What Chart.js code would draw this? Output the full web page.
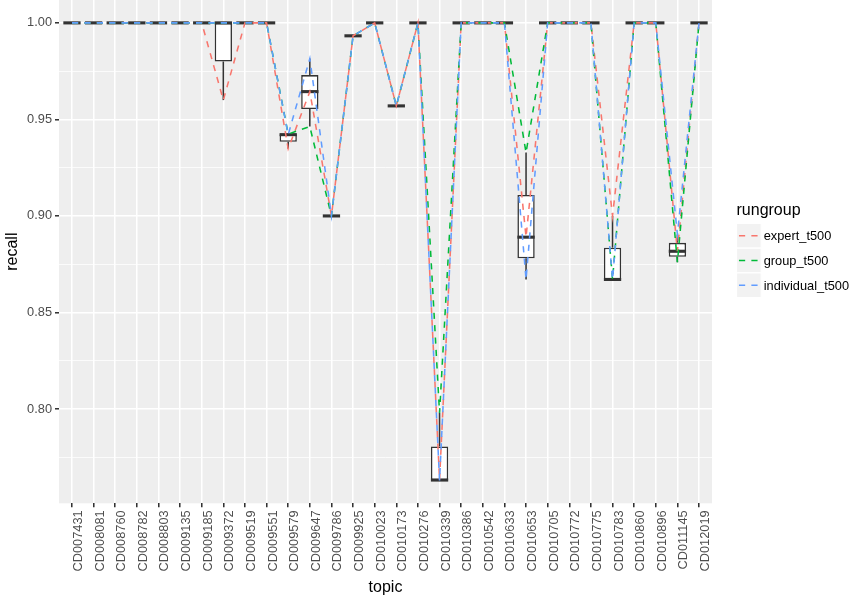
<!DOCTYPE html>
<html>
<head>
<meta charset="utf-8">
<script src="https://cdn.jsdelivr.net/npm/chart.js@4/dist/chart.umd.min.js"></script>
<style>
  html, body { margin: 0; padding: 0; background: #ffffff; }
  canvas { display: block; }
</style>
</head>
<body>
<canvas id="chart" width="854" height="598"></canvas>
<script>
// Topics on the x axis
const topics = [
  'CD007431', 'CD008081', 'CD008760', 'CD008782', 'CD008803', 'CD009135',
  'CD009185', 'CD009372', 'CD009519', 'CD009551', 'CD009579', 'CD009647',
  'CD009786', 'CD009925', 'CD010023', 'CD010173', 'CD010276', 'CD010339',
  'CD010386', 'CD010542', 'CD010633', 'CD010653', 'CD010705', 'CD010772',
  'CD010775', 'CD010783', 'CD010860', 'CD010896', 'CD011145', 'CD012019'
];

// Recall per topic for each run group
const expert = [
  1, 1, 1, 1, 1, 1,
  1, 0.960, 1, 1, 0.9348, 0.9644,
  0.900, 0.9933, 1, 0.957, 1, 0.7632,
  1, 1, 1, 0.889, 1, 1,
  1, 0.900, 1, 1, 0.8817, 1
];
const group = [
  1, 1, 1, 1, 1, 1,
  1, 1, 1, 1, 0.9424, 0.9463,
  0.900, 0.9933, 1, 0.957, 1, 0.7979,
  1, 1, 1, 0.9328, 1, 1,
  1, 0.8671, 1, 1, 0.876, 1
];
const individual = [
  1, 1, 1, 1, 1, 1,
  1, 1, 1, 1, 0.9421, 0.9815,
  0.900, 0.9933, 1, 0.957, 1, 0.763,
  1, 1, 1, 0.8671, 1, 1,
  1, 0.8671, 1, 1, 0.8904, 1
];

// Labelled y ticks
const yTicks = [0.80, 0.85, 0.90, 0.95, 1.00];

const seriesNames = ['expert_t500', 'group_t500', 'individual_t500'];
const seriesColors = ['#F8766D', '#00BA38', '#619CFF'];

const SANS = '"Liberation Sans", Arial, Helvetica, sans-serif';
Chart.defaults.font.family = SANS;

// ---- box statistics (type 7 quantiles, 1.5 IQR whiskers) ----
function quantile(sorted, p) {
  const h = (sorted.length - 1) * p;
  const lo = Math.floor(h);
  const hi = Math.min(lo + 1, sorted.length - 1);
  return sorted[lo] + (h - lo) * (sorted[hi] - sorted[lo]);
}
const stats = topics.map((_, i) => {
  const vals = [expert[i], group[i], individual[i]].sort((a, b) => a - b);
  const q1 = quantile(vals, 0.25), med = quantile(vals, 0.5), q3 = quantile(vals, 0.75);
  const iqr = q3 - q1;
  const inside = vals.filter(v => v >= q1 - 1.5 * iqr && v <= q3 + 1.5 * iqr);
  return {
    q1, med, q3,
    lo: Math.min(...inside), hi: Math.max(...inside),
    out: vals.filter(v => v < q1 - 1.5 * iqr || v > q3 + 1.5 * iqr)
  };
});

// y range with 5% expansion on each side
const allVals = expert.concat(group, individual);
const dataMin = Math.min(...allVals), dataMax = Math.max(...allVals);
const yPad = (dataMax - dataMin) * 0.05;

// minor grid halfway between labelled ticks (and one step beyond)
const yStep = yTicks[1] - yTicks[0];
const yMinor = [yTicks[0] - yStep / 2]
  .concat(yTicks.slice(1).map((t, k) => (t + yTicks[k]) / 2))
  .concat([yTicks[yTicks.length - 1] + yStep / 2])
  .filter(v => v >= dataMin - yPad && v <= dataMax + yPad);
const isMajor = v => yTicks.some(t => Math.abs(t - v) < 1e-9);

const LINE_W = 1.55;
const BOX_COL = '#333333';

// grey panel behind the plot
const panelPlugin = {
  id: 'panel',
  beforeDraw(chart) {
    const { ctx, chartArea: a } = chart;
    ctx.save();
    ctx.fillStyle = '#EEEEEE';
    ctx.fillRect(a.left, a.top, a.right - a.left, a.bottom - a.top);
    ctx.restore();
  }
};

// whiskers, medians and outliers on top of the box bodies
const boxPlugin = {
  id: 'boxExtras',
  afterDatasetDraw(chart, args) {
    if (args.index !== 0) return;
    const { ctx } = chart;
    const ys = chart.scales.y;
    const bars = args.meta.data;
    ctx.save();
    ctx.strokeStyle = BOX_COL;
    ctx.lineCap = 'butt';
    stats.forEach((s, i) => {
      const bar = bars[i];
      const cx = bar.x, half = bar.width / 2;
      ctx.lineWidth = LINE_W;
      ctx.beginPath();
      ctx.moveTo(cx, ys.getPixelForValue(s.q3));
      ctx.lineTo(cx, ys.getPixelForValue(s.hi));
      ctx.moveTo(cx, ys.getPixelForValue(s.q1));
      ctx.lineTo(cx, ys.getPixelForValue(s.lo));
      ctx.stroke();
      ctx.lineWidth = LINE_W * 2;
      ctx.beginPath();
      const my = ys.getPixelForValue(s.med);
      ctx.moveTo(cx - half, my);
      ctx.lineTo(cx + half, my);
      ctx.stroke();
      s.out.forEach(v => {
        ctx.fillStyle = BOX_COL;
        ctx.beginPath();
        ctx.arc(cx, ys.getPixelForValue(v), 2.2, 0, Math.PI * 2);
        ctx.fill();
      });
    });
    ctx.restore();
  }
};

// legend on the right: title, grey keys with dashed samples, labels
const legendPlugin = {
  id: 'rungroupLegend',
  afterDraw(chart) {
    const { ctx, chartArea: a } = chart;
    const x0 = a.right + 24.5;
    const key = 24.7;
    const midY = (a.top + a.bottom) / 2;
    const top = midY - 28.2;
    ctx.save();
    ctx.fillStyle = '#000000';
    ctx.font = '16px ' + SANS;
    ctx.textAlign = 'left';
    ctx.textBaseline = 'alphabetic';
    ctx.fillText('rungroup', x0, top - 8);
    seriesNames.forEach((name, k) => {
      const y = top + k * key;
      ctx.fillStyle = '#F2F2F2';
      ctx.fillRect(x0, y, key, key);
      ctx.strokeStyle = '#ffffff';
      ctx.lineWidth = 1.2;
      ctx.strokeRect(x0, y, key, key);
      ctx.strokeStyle = seriesColors[k];
      ctx.lineWidth = LINE_W;
      ctx.setLineDash([6.2, 6.2]);
      ctx.beginPath();
      ctx.moveTo(x0 + key * 0.1, y + key / 2);
      ctx.lineTo(x0 + key * 0.9, y + key / 2);
      ctx.stroke();
      ctx.setLineDash([]);
      ctx.fillStyle = '#000000';
      ctx.font = '12.8px ' + SANS;
      ctx.fillText(name, x0 + key + 2.5, y + key / 2 + 4.6);
    });
    ctx.restore();
  }
};

function lineSet(label, vals, color, order) {
  return {
    type: 'line',
    label,
    data: vals.map((v, i) => ({ x: i, y: v })),
    borderColor: color,
    borderWidth: LINE_W,
    borderDash: [6.2, 6.2],
    pointRadius: 0,
    pointHoverRadius: 0,
    fill: false,
    tension: 0,
    order
  };
}

new Chart(document.getElementById('chart'), {
  type: 'bar',
  data: {
    datasets: [
      {
        type: 'bar',
        label: 'box',
        data: stats.map((s, i) => ({ x: i, y: [s.q1, s.q3] })),
        backgroundColor: '#ffffff',
        borderColor: BOX_COL,
        borderWidth: LINE_W,
        borderSkipped: false,
        barPercentage: 0.8,
        categoryPercentage: 1,
        order: 10
      },
      lineSet(seriesNames[0], expert, seriesColors[0], 3),
      lineSet(seriesNames[1], group, seriesColors[1], 2),
      lineSet(seriesNames[2], individual, seriesColors[2], 1)
    ]
  },
  options: {
    responsive: false,
    animation: false,
    events: [],
    layout: { padding: { left: 0, top: 0, right: 142, bottom: 0 } },
    plugins: {
      legend: { display: false },
      tooltip: { enabled: false }
    },
    scales: {
      x: {
        type: 'linear',
        min: -0.6,
        max: topics.length - 0.4,
        offset: false,
        border: { display: false },
        grid: {
          offset: false,
          color: '#ffffff',
          lineWidth: LINE_W,
          tickLength: 4,
          tickColor: '#333333',
          tickWidth: LINE_W
        },
        afterBuildTicks(scale) {
          scale.ticks = topics.map((_, i) => ({ value: i }));
        },
        ticks: {
          autoSkip: false,
          minRotation: 90,
          maxRotation: 90,
          padding: 3,
          labelOffset: 6.5,
          color: '#4D4D4D',
          font: { size: 12.8 },
          callback: (v, i) => topics[i]
        },
        title: {
          display: true,
          text: 'topic',
          color: '#000000',
          font: { size: 16, lineHeight: 1 },
          padding: { top: 0, bottom: 2 }
        },
        afterFit(scale) {
          scale.height = 94.7;
          scale.paddingLeft = 0;
          scale.paddingRight = 0;
        }
      },
      y: {
        type: 'linear',
        min: dataMin - yPad,
        max: dataMax + yPad,
        border: { display: false },
        grid: {
          color: '#ffffff',
          lineWidth: c => (c.tick && !isMajor(c.tick.value)) ? LINE_W / 2 : LINE_W,
          tickLength: 4,
          tickColor: c => (c.tick && !isMajor(c.tick.value)) ? 'rgba(0,0,0,0)' : '#333333',
          tickWidth: LINE_W
        },
        afterBuildTicks(scale) {
          scale.ticks = yTicks.concat(yMinor).sort((a, b) => a - b).map(v => ({ value: v }));
        },
        ticks: {
          padding: 3,
          color: '#4D4D4D',
          font: { size: 12.8 },
          callback: v => isMajor(v) ? v.toFixed(2) : ''
        },
        title: {
          display: true,
          text: 'recall',
          color: '#000000',
          font: { size: 16, lineHeight: 1 },
          padding: { top: 5, bottom: 0 }
        },
        afterFit(scale) {
          scale.width = 59;
          scale.paddingTop = 0;
          scale.paddingBottom = 0;
        }
      }
    }
  },
  plugins: [panelPlugin, boxPlugin, legendPlugin]
});
</script>
</body>
</html>
